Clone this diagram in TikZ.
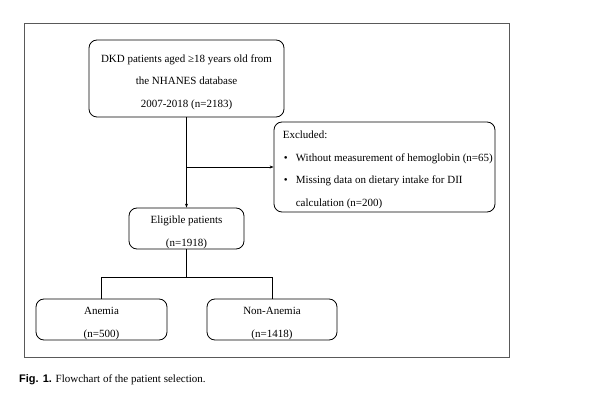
\documentclass[tikz,border=0pt]{standalone}
\usepackage{fontspec}
\setmainfont{Liberation Serif}
\newfontfamily\capsans{Liberation Sans}
\usetikzlibrary{arrows.meta}
\begin{document}
\begin{tikzpicture}[x=1pt,y=-1pt,
  box/.style={draw,line width=0.8pt,rounded corners=8pt,inner sep=0pt},
  txt/.style={inner sep=0pt,align=center,font=\fontsize{11}{22.5}\selectfont},
  conn/.style={line width=0.8pt},
  arr/.style={conn,-{Stealth[length=4pt,width=3pt]}}]
\useasboundingbox (0,0) rectangle (597,395);
\node[draw=black!65,line width=0.8pt,minimum width=485pt,minimum height=334pt,inner sep=0pt] (frame) at (266.5,190) {};
\node[box,minimum width=195pt,minimum height=77pt] (top) at (186.5,78.5) {};
\node[txt] (toptxt) at ([yshift=-3.5pt]top.center)
  {DKD patients aged ≥18 years old from\\the NHANES database\\2007-2018 (n=2183)};
\node[box,minimum width=221pt,minimum height=90pt] (excl) at (384.5,167) {};
\node[txt,align=left,anchor=west] (excltxt) at ([xshift=9pt,yshift=-3pt]excl.west)
  {Excluded:\\\makebox[13pt][l]{\hspace{1pt}•}Without measurement of hemoglobin (n=65)\\\makebox[13pt][l]{\hspace{1pt}•}Missing data on dietary intake for DII\\\hspace*{13pt}calculation (n=200)};
\node[box,minimum width=115pt,minimum height=41pt] (elig) at (186.5,228.5) {};
\node[txt] (eligtxt) at ([yshift=-4pt]elig.center) {Eligible patients\\(n=1918)};
\node[box,minimum width=131pt,minimum height=41pt] (anem) at (101.5,319.5) {};
\node[txt] (anemtxt) at ([yshift=-4pt]anem.center) {Anemia\\(n=500)};
\node[box,minimum width=130pt,minimum height=41pt] (nonan) at (272,319.5) {};
\node[txt] (nonantxt) at ([yshift=-4pt]nonan.center) {Non-Anemia\\(n=1418)};
\coordinate (split) at (186.5,167);
\coordinate (fork) at (186.5,277);
\draw[arr] (top) -- (elig);
\draw[arr] (split) -- (excl.west);
\draw[conn] (elig.south) -- (fork);
\draw[conn] (fork) -| (anem.north);
\draw[conn] (fork) -| (nonan.north);
\node[anchor=base west,inner sep=0pt,font=\fontsize{11}{12}\selectfont] (cap) at (19,382)
  {{\capsans\bfseries Fig. 1.} Flowchart of the patient selection.};
\end{tikzpicture}
\end{document}
